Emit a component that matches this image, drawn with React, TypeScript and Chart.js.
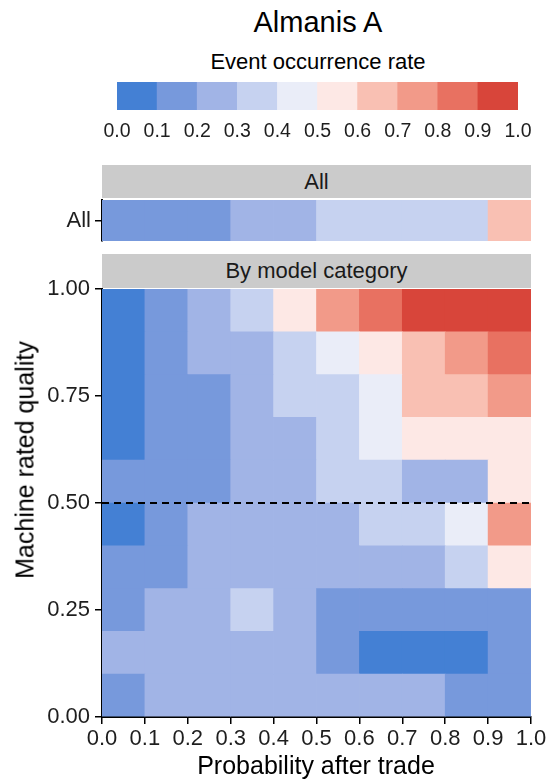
import React, { useEffect, useRef } from 'react';
import { Chart, registerables } from 'chart.js';

Chart.register(...registerables);

const FONT = "'Liberation Sans', Arial, Helvetica, sans-serif";

// Colour scale: ten bins of event occurrence rate
const binColors = ['#4480d4', '#7799dc', '#a1b4e6', '#c6d2f0', '#eaedf8', '#fde8e5', '#f9c0b3', '#f29a89', '#e87161', '#d8453a'];
const legendBins = ['0.0-0.1', '0.1-0.2', '0.2-0.3', '0.3-0.4', '0.4-0.5', '0.5-0.6', '0.6-0.7', '0.7-0.8', '0.8-0.9', '0.9-1.0'];
const legendTicks = [0.0, 0.1, 0.2, 0.3, 0.4, 0.5, 0.6, 0.7, 0.8, 0.9, 1.0];

// Probability after trade bins (x) and machine rated quality bins (y)
const xBins = ['0.0-0.1', '0.1-0.2', '0.2-0.3', '0.3-0.4', '0.4-0.5', '0.5-0.6', '0.6-0.7', '0.7-0.8', '0.8-0.9', '0.9-1.0'];
const xTicks = [0.0, 0.1, 0.2, 0.3, 0.4, 0.5, 0.6, 0.7, 0.8, 0.9, 1.0];
const yBinEdges = [0.0, 0.1, 0.2, 0.3, 0.4, 0.5, 0.6, 0.7, 0.8, 0.9, 1.0];
const yTicks = [0.0, 0.25, 0.5, 0.75, 1.0];

// "All" panel: event occurrence rate per probability bin
const allRates = [0.15, 0.15, 0.15, 0.25, 0.25, 0.35, 0.35, 0.35, 0.35, 0.65];

// "By model category" panel: one array per quality bin (bottom to top)
const q00 = [0.15, 0.25, 0.25, 0.25, 0.25, 0.25, 0.25, 0.25, 0.15, 0.15];
const q10 = [0.25, 0.25, 0.25, 0.25, 0.25, 0.15, 0.05, 0.05, 0.05, 0.15];
const q20 = [0.15, 0.25, 0.25, 0.35, 0.25, 0.15, 0.15, 0.15, 0.15, 0.15];
const q30 = [0.15, 0.15, 0.25, 0.25, 0.25, 0.25, 0.25, 0.25, 0.35, 0.55];
const q40 = [0.05, 0.15, 0.25, 0.25, 0.25, 0.25, 0.35, 0.35, 0.45, 0.75];
const q50 = [0.15, 0.15, 0.15, 0.25, 0.25, 0.35, 0.35, 0.25, 0.25, 0.55];
const q60 = [0.05, 0.15, 0.15, 0.25, 0.25, 0.35, 0.45, 0.55, 0.55, 0.55];
const q70 = [0.05, 0.15, 0.15, 0.25, 0.35, 0.35, 0.45, 0.65, 0.65, 0.75];
const q80 = [0.05, 0.15, 0.25, 0.25, 0.35, 0.45, 0.55, 0.65, 0.75, 0.85];
const q90 = [0.05, 0.15, 0.25, 0.35, 0.55, 0.75, 0.85, 0.95, 0.95, 0.95];
const qualityRows = [q00, q10, q20, q30, q40, q50, q60, q70, q80, q90];

const refLine = 0.5;

const colorFor = (r: number) => binColors[Math.max(0, Math.min(9, Math.floor(r * 10)))];

const W = 549;
const H = 783;

// layout (page pixels)
const LEG = { left: 117, right: 518, top: 82, bottom: 110 };
const ALL = { left: 102, right: 531, top: 200, bottom: 241 };
const MAIN = { left: 102, right: 531, top: 289, bottom: 717 };

const TICK_FONT = { family: FONT, size: 22 };
const TICK_COLOR = '#1e1e1e';

export default function App() {
  const legRef = useRef<HTMLCanvasElement>(null);
  const allRef = useRef<HTMLCanvasElement>(null);
  const mainRef = useRef<HTMLCanvasElement>(null);

  useEffect(() => {
    const charts: Chart[] = [];
    const LEG_AXIS_H = 40;
    charts.push(
      new Chart(legRef.current!, {
        type: 'bar',
        data: {
          labels: legendBins,
          datasets: [
            {
              data: legendBins.map(() => 1),
              backgroundColor: binColors,
              borderWidth: 0,
              barPercentage: 1,
              categoryPercentage: 1,
            },
          ],
        },
        options: {
          responsive: false,
          animation: false,
          devicePixelRatio: 1,
          layout: { padding: { left: LEG.left, right: W - LEG.right, top: LEG.top, bottom: H - LEG.bottom - LEG_AXIS_H } },
          plugins: { legend: { display: false }, tooltip: { enabled: false } },
          scales: {
            x: { display: false },
            y: { display: false, min: 0, max: 1 },
            x2: {
              type: 'linear',
              position: 'bottom',
              offset: false,
              min: 0,
              max: 1,
              afterBuildTicks: (a: any) => {
                a.ticks = legendTicks.map((v) => ({ value: v }));
              },
              afterFit: (a: any) => {
                a.height = LEG_AXIS_H;
              },
              ticks: {
                callback: (v: any) => Number(v).toFixed(1),
                font: { family: FONT, size: 19.5 },
                color: TICK_COLOR,
                padding: 10,
                maxRotation: 0,
                autoSkip: false,
              },
              grid: { display: false, drawTicks: false, offset: false },
              border: { display: false },
            },
          } as any,
        },
      })
    );

    charts.push(
      new Chart(allRef.current!, {
        type: 'bar',
        data: {
          labels: xBins,
          datasets: [
            {
              data: xBins.map(() => 1),
              backgroundColor: allRates.map(colorFor),
              borderWidth: 0,
              barPercentage: 1,
              categoryPercentage: 1,
            },
          ],
        },
        options: {
          responsive: false,
          animation: false,
          devicePixelRatio: 1,
          layout: { padding: { left: 0, right: W - ALL.right, top: ALL.top, bottom: H - ALL.bottom } },
          plugins: { legend: { display: false }, tooltip: { enabled: false } },
          scales: {
            x: { display: false },
            y: {
              min: 0,
              max: 1,
              afterBuildTicks: (a: any) => {
                a.ticks = [{ value: 0.5 }];
              },
              afterFit: (a: any) => {
                a.width = ALL.left;
              },
              ticks: {
                callback: () => 'All',
                font: TICK_FONT,
                color: TICK_COLOR,
                padding: 4,
              },
              grid: { drawOnChartArea: false, drawTicks: true, tickLength: 7, color: '#000', lineWidth: 1.5 },
              border: { display: true, color: '#000', width: 2 },
            },
          } as any,
        },
      })
    );

    const MAIN_AXIS_H = 40;
    const datasets: any[] = qualityRows.map((row, i) => ({
      type: 'bar',
      data: xBins.map(() => [yBinEdges[i], yBinEdges[i + 1]]),
      backgroundColor: row.map(colorFor),
      borderWidth: 0,
      barPercentage: 1,
      categoryPercentage: 1,
      grouped: false,
      order: 1,
      xAxisID: 'x',
      yAxisID: 'y',
    }));
    datasets.push({
      type: 'line',
      data: [
        { x: 0, y: refLine },
        { x: 1, y: refLine },
      ],
      xAxisID: 'x2',
      yAxisID: 'y',
      borderColor: '#000',
      borderWidth: 2,
      borderDash: [7, 5],
      pointRadius: 0,
      fill: false,
      order: 0,
    });

    charts.push(
      new Chart(mainRef.current!, {
        type: 'bar',
        data: { labels: xBins, datasets },
        options: {
          responsive: false,
          animation: false,
          devicePixelRatio: 1,
          layout: { padding: { left: 0, right: W - MAIN.right, top: MAIN.top, bottom: H - MAIN.bottom - MAIN_AXIS_H } },
          plugins: { legend: { display: false }, tooltip: { enabled: false } },
          scales: {
            x: { display: false },
            x2: {
              type: 'linear',
              position: 'bottom',
              offset: false,
              min: 0,
              max: 1,
              afterBuildTicks: (a: any) => {
                a.ticks = xTicks.map((v) => ({ value: v }));
              },
              afterFit: (a: any) => {
                a.height = MAIN_AXIS_H;
              },
              ticks: {
                callback: (v: any) => Number(v).toFixed(1),
                font: TICK_FONT,
                color: TICK_COLOR,
                padding: 2,
                maxRotation: 0,
                autoSkip: false,
              },
              grid: { drawOnChartArea: false, drawTicks: true, tickLength: 7, color: '#000', lineWidth: 1.5, offset: false },
              border: { display: true, color: '#000', width: 2 },
            },
            y: {
              min: 0,
              max: 1,
              afterBuildTicks: (a: any) => {
                a.ticks = yTicks.map((v) => ({ value: v }));
              },
              afterFit: (a: any) => {
                a.width = MAIN.left;
              },
              ticks: {
                callback: (v: any) => Number(v).toFixed(2),
                font: TICK_FONT,
                color: TICK_COLOR,
                padding: 5,
              },
              grid: { drawOnChartArea: false, drawTicks: true, tickLength: 7, color: '#000', lineWidth: 1.5 },
              border: { display: true, color: '#000', width: 2 },
            },
          } as any,
        },
      })
    );

    return () => {
      charts.forEach((c) => c.destroy());
    };
  }, []);

  const canvasStyle: React.CSSProperties = { position: 'absolute', left: 0, top: 0, width: W, height: H };
  const text = (
    content: string,
    cx: number,
    cy: number,
    size: number,
    extra: React.CSSProperties = {}
  ) => (
    <div
      style={{
        position: 'absolute',
        left: cx,
        top: cy,
        transform: 'translate(-50%, -50%)',
        fontFamily: FONT,
        fontSize: size,
        lineHeight: 1,
        whiteSpace: 'nowrap',
        color: '#000',
        ...extra,
      }}
    >
      {content}
    </div>
  );

  const strip = (label: string, top: number, bottom: number) => (
    <div
      style={{
        position: 'absolute',
        left: MAIN.left,
        top,
        width: MAIN.right - MAIN.left,
        height: bottom - top,
        background: '#cbcbcb',
        display: 'flex',
        alignItems: 'center',
        justifyContent: 'center',
        fontFamily: FONT,
        fontSize: 22,
        color: '#1a1a1a',
        lineHeight: 1,
      }}
    >
      {label}
    </div>
  );

  return (
    <div style={{ position: 'absolute', left: 0, top: 0, width: W, height: H, background: '#fff', overflow: 'hidden' }}>
      {text('Almanis A', 318, 22, 29)}
      {text('Event occurrence rate', 318, 62, 22)}
      {strip('All', 165, 198)}
      {strip('By model category', 254, 288)}
      <canvas ref={legRef} width={W} height={H} style={canvasStyle} />
      <canvas ref={allRef} width={W} height={H} style={canvasStyle} />
      <canvas ref={mainRef} width={W} height={H} style={canvasStyle} />
      {text('Probability after trade', 316, 765, 25)}
      {text('Machine rated quality', 25, 460, 25, { transform: 'translate(-50%, -50%) rotate(-90deg)' })}
    </div>
  );
}
